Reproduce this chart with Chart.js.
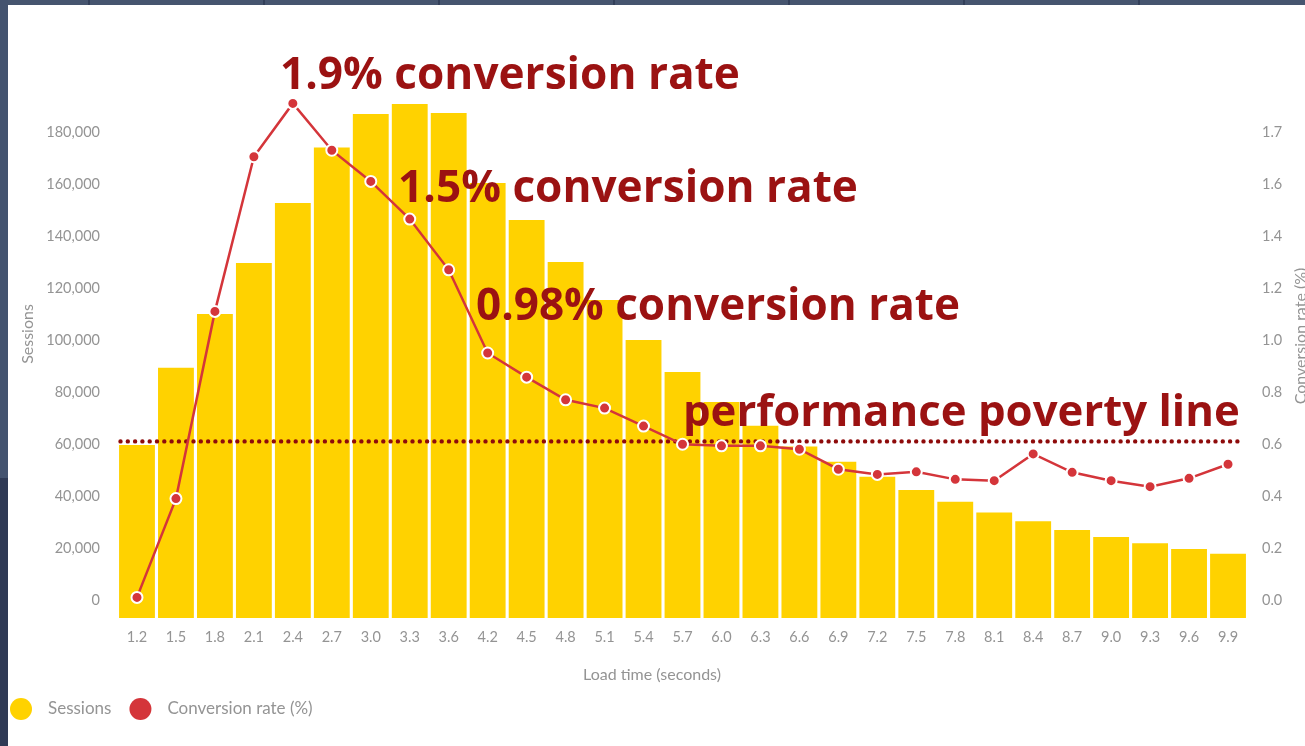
<!DOCTYPE html>
<html>
<head>
<meta charset="utf-8">
<script src="https://cdn.jsdelivr.net/npm/chart.js@4.4.1/dist/chart.umd.min.js"></script>
<style>
html,body{margin:0;padding:0;width:1305px;height:746px;overflow:hidden;background:#44536f;}
#topStrip{position:absolute;left:0;top:0;width:1305px;height:5px;
  background:repeating-linear-gradient(90deg,#46556f 0px,#46556f 173px,#33405a 173px,#33405a 175px);
  background-position:-85px 0;}
#leftStrip{position:absolute;left:0;top:0;width:8px;height:746px;
  background:linear-gradient(180deg,#44536f 0px,#44536f 478px,#2f3a55 478px,#2f3a55 746px);}
#card{position:absolute;left:8px;top:5px;width:1297px;height:741px;background:#fff;}
canvas{display:block;}
</style>
</head>
<body>
<div id="topStrip"></div>
<div id="leftStrip"></div>
<div id="card"><canvas id="c" width="1297" height="741"></canvas></div>
<script>
// ---- data ----
const categories = ['1.2','1.5','1.8','2.1','2.4','2.7','3.0','3.3','3.6','4.2','4.5','4.8','5.1','5.4','5.7','6.0','6.3','6.6','6.9','7.2','7.5','7.8','8.1','8.4','8.7','9.0','9.3','9.6','9.9'];
const sessions = [59600,89300,110000,129600,152700,174000,186900,190800,187300,160400,146200,130000,115400,100000,87700,76200,67000,59000,53200,47400,42300,37800,33700,30300,26900,24200,21800,19600,17800];
const conversionRate = [0.01,0.39,1.11,1.705,1.91,1.73,1.61,1.465,1.27,0.95,0.857,0.77,0.738,0.669,0.599,0.593,0.593,0.58,0.503,0.483,0.493,0.464,0.459,0.562,0.491,0.459,0.436,0.468,0.522];
const sessionTickValues = [0,20000,40000,60000,80000,100000,120000,140000,160000,180000];
const sessionTickLabels = ['0','20,000','40,000','60,000','80,000','100,000','120,000','140,000','160,000','180,000'];
const rateTickValues = [0,0.2,0.4,0.6,0.8,1.0,1.2,1.4,1.6,1.8];
const rateTickLabels = ['0.0','0.2','0.4','0.6','0.8','1.0','1.2','1.4','1.6','1.7'];
const povertyLine = 0.61;
const sessionsAxisMin = -6920, sessionsAxisMax = 200000;
const rateAxisMin = -0.0692, rateAxisMax = 2.0;
const seriesLabels = ['Sessions','Conversion rate (%)'];
const xTitle = 'Load time (seconds)';
const yLeftTitle = 'Sessions';
const yRightTitle = 'Conversion rate (%)';
// annotation text: anchored at category index (left edge of text) and conversion-rate value (baseline)
const annotationTexts = ['1.9% conversion rate','1.5% conversion rate','0.98% conversion rate','performance poverty line'];
const annotationAt = [3.67, 6.70, 8.70, 14.01];
const annotationValue = [1.965, 1.531, 1.077, 0.669];
const annotationWidth = [460, 460, 484, 557];

// ---- styles ----
const YELLOW = '#ffd200';
const RED = '#d4353a';
const DARKRED = '#9b1212';
const GREY = '#949494';
const FONT = 'Lato, "Open Sans", sans-serif';
const BOLDFONT = '"Open Sans", "Noto Sans", sans-serif';

const povertyPlugin = {
  id: 'povertyLine',
  afterDatasetDraw(chart, args) {
    if (args.index !== 0) return;
    const {ctx, chartArea} = chart;
    const y = chart.scales.yRate.getPixelForValue(povertyLine);
    ctx.save();
    ctx.strokeStyle = '#8e0b0b';
    ctx.lineWidth = 4.4;
    ctx.lineCap = 'round';
    ctx.setLineDash([0, 7.3]);
    ctx.beginPath();
    ctx.moveTo(chartArea.left + 3, y);
    ctx.lineTo(chartArea.right - 7, y);
    ctx.stroke();
    ctx.restore();
  }
};

const textPlugin = {
  id: 'annotTexts',
  afterDatasetsDraw(chart) {
    const {ctx} = chart;
    const xs = chart.scales.x, ys = chart.scales.yRate;
    ctx.save();
    ctx.fillStyle = DARKRED;
    ctx.textBaseline = 'alphabetic';
    ctx.textAlign = 'left';
    annotationTexts.forEach((t, i) => {
      ctx.font = 'bold 100px ' + BOLDFONT;
      const w = ctx.measureText(t).width;
      const size = 100 * annotationWidth[i] / w;
      ctx.font = 'bold ' + size.toFixed(2) + 'px ' + BOLDFONT;
      ctx.fillText(t, xs.getPixelForValue(annotationAt[i]), ys.getPixelForValue(annotationValue[i]));
    });
    ctx.restore();
  }
};

const titlesLegendPlugin = {
  id: 'titlesLegend',
  afterDraw(chart) {
    const {ctx} = chart;
    ctx.save();
    ctx.fillStyle = GREY;
    ctx.font = '16px ' + FONT;
    ctx.textAlign = 'center';
    ctx.textBaseline = 'middle';
    ctx.fillText(xTitle, 644, 670);
    ctx.save(); ctx.translate(20, 329); ctx.rotate(-Math.PI/2); ctx.fillText(yLeftTitle, 0, 0); ctx.restore();
    ctx.save(); ctx.translate(1293, 331); ctx.rotate(-Math.PI/2); ctx.fillText(yRightTitle, 0, 0); ctx.restore();
    // legend
    ctx.font = '17px ' + FONT;
    ctx.textAlign = 'left';
    let x = 2;
    const cy = 704;
    chart.data.datasets.forEach((ds) => {
      ctx.beginPath();
      ctx.fillStyle = ds.legendColor;
      ctx.arc(x + 11, cy, 11, 0, Math.PI * 2);
      ctx.fill();
      ctx.fillStyle = GREY;
      ctx.fillText(ds.label, x + 38, cy);
      x += 38 + ctx.measureText(ds.label).width + 18;
    });
    ctx.restore();
  }
};

new Chart(document.getElementById('c'), {
  type: 'bar',
  data: {
    labels: categories,
    datasets: [
      {
        type: 'bar', label: seriesLabels[0], data: sessions, yAxisID: 'y',
        backgroundColor: YELLOW, legendColor: YELLOW, base: sessionsAxisMin,
        barPercentage: 0.92, categoryPercentage: 1.0, order: 1
      },
      {
        type: 'line', label: seriesLabels[1], data: conversionRate, yAxisID: 'yRate',
        borderColor: RED, borderWidth: 2.5, legendColor: RED,
        pointRadius: 5.5, pointBackgroundColor: RED, pointBorderColor: '#fff', pointBorderWidth: 2,
        tension: 0, order: 0, clip: false
      }
    ]
  },
  options: {
    responsive: false,
    animation: false,
    layout: {padding: {top: 75, bottom: 58, left: 0, right: 0}},
    plugins: {legend: {display: false}, tooltip: {enabled: false}},
    scales: {
      x: {
        grid: {display: false, drawTicks: false}, border: {display: false},
        ticks: {color: GREY, font: {family: FONT, size: 14.5}, padding: 11, maxRotation: 0, autoSkip: false},
        afterFit(s) { s.height = 70; }
      },
      y: {
        position: 'left', min: sessionsAxisMin, max: sessionsAxisMax,
        grid: {display: false, drawTicks: false}, border: {display: false},
        afterBuildTicks(s) { s.ticks = sessionTickValues.map(v => ({value: v})); },
        ticks: {color: GREY, font: {family: FONT, size: 14.5}, padding: 17.5,
          callback: (v, i) => sessionTickLabels[i]},
        afterFit(s) { s.width = 109.5; }
      },
      yRate: {
        position: 'right', min: rateAxisMin, max: rateAxisMax,
        grid: {display: false, drawTicks: false}, border: {display: false},
        afterBuildTicks(s) { s.ticks = rateTickValues.map(v => ({value: v})); },
        ticks: {color: GREY, font: {family: FONT, size: 14.5}, padding: 14.5,
          callback: (v, i) => rateTickLabels[i]},
        afterFit(s) { s.width = 57.5; }
      }
    }
  },
  plugins: [povertyPlugin, textPlugin, titlesLegendPlugin]
});
</script>
</body>
</html>
